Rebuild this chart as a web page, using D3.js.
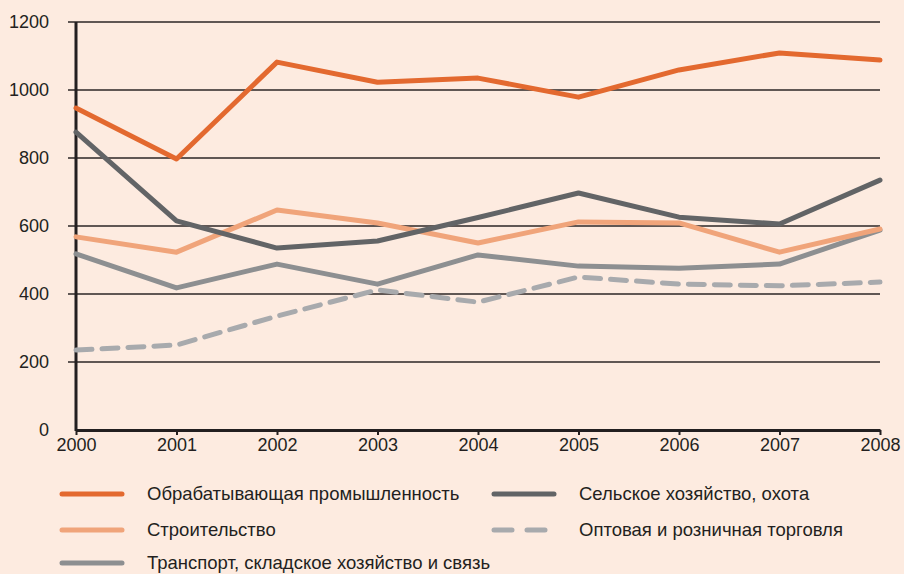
<!DOCTYPE html>
<html>
<head>
<meta charset="utf-8">
<script src="https://cdn.jsdelivr.net/npm/d3@7"></script>
<style>
  body { margin: 0; background: #fdebe0; }
  svg { display: block; font-family: "Liberation Sans", Arial, sans-serif; }
</style>
</head>
<body>
<svg width="904" height="574"></svg>
<script>
var years = [2000, 2001, 2002, 2003, 2004, 2005, 2006, 2007, 2008];
var yTicks = [0, 200, 400, 600, 800, 1000, 1200];

var manufacturing = [947, 797, 1082, 1023, 1035, 979, 1059, 1109, 1088];
var agriculture   = [876, 615, 535, 556, 625, 697, 626, 606, 735];
var construction  = [568, 523, 647, 609, 550, 612, 609, 523, 591];
var transport     = [518, 418, 488, 429, 515, 482, 476, 488, 588];
var trade         = [235, 250, 335, 412, 376, 450, 429, 424, 435];

var seriesNames = [
    'Обрабатывающая промышленность',
    'Сельское хозяйство, охота',
    'Строительство',
    'Оптовая и розничная торговля',
    'Транспорт, складское хозяйство и связь'
];

var series = [
    {name: seriesNames[0], values: manufacturing, color: '#e3692f', dash: null},
    {name: seriesNames[1], values: agriculture, color: '#626466', dash: null},
    {name: seriesNames[2], values: construction, color: '#f0a47a', dash: null},
    {name: seriesNames[3], values: trade, color: '#a8aaad', dash: '16 10'},
    {name: seriesNames[4], values: transport, color: '#8d8f91', dash: null}
];

var margin = {left: 76, right: 24, top: 22, bottom: 144};
var width = 904, height = 574;

var x = d3.scaleLinear().domain([2000, 2008]).range([margin.left, width - margin.right]);
var y = d3.scaleLinear().domain([0, 1200]).range([height - margin.bottom, margin.top]);

var svg = d3.select('svg');

// grid lines
svg.append('g')
    .selectAll('line')
    .data(yTicks.filter(function(d){ return d > 0; }))
    .join('line')
    .attr('x1', margin.left - 8)
    .attr('x2', x(2008))
    .attr('y1', function(d){ return y(d); })
    .attr('y2', function(d){ return y(d); })
    .style('stroke', '#2b2626')
    .style('stroke-width', 1.3);

// y labels
svg.append('g')
    .selectAll('text')
    .data(yTicks)
    .join('text')
    .attr('x', 49)
    .attr('y', function(d){ return y(d) + 6; })
    .attr('text-anchor', 'end')
    .style('font-size', '18px')
    .style('fill', '#231f20')
    .text(function(d){ return d; });

// x axis
var xAxis = d3.axisBottom(x)
    .tickValues(years)
    .tickFormat(d3.format('d'))
    .tickSize(5)
    .tickSizeOuter(0)
    .tickPadding(3);

var gx = svg.append('g')
    .attr('transform', 'translate(0,' + y(0) + ')')
    .call(xAxis);
gx.select('.domain').style('stroke', '#231f20').style('stroke-width', 3);
gx.selectAll('.tick line').style('stroke', '#231f20').style('stroke-width', 2);
gx.selectAll('.tick text')
    .style('font-size', '18px')
    .style('font-family', '"Liberation Sans", Arial, sans-serif')
    .style('fill', '#231f20');

// y axis line
svg.append('line')
    .attr('x1', margin.left)
    .attr('x2', margin.left)
    .attr('y1', y(1200))
    .attr('y2', y(0) + 1)
    .style('stroke', '#231f20')
    .style('stroke-width', 3);

var line = d3.line()
    .x(function(d, i){ return x(years[i]); })
    .y(function(d){ return y(d); });

// draw in order so orange stays on top
var drawOrder = [3, 4, 2, 1, 0];
svg.append('g')
    .selectAll('path')
    .data(drawOrder.map(function(i){ return series[i]; }))
    .join('path')
    .attr('d', function(d){ return line(d.values); })
    .style('fill', 'none')
    .style('stroke', function(d){ return d.color; })
    .style('stroke-width', 5)
    .style('stroke-linejoin', 'round')
    .style('stroke-linecap', 'round')
    .style('stroke-dasharray', function(d){ return d.dash; });

// legend
var legendPos = [
    {x: 62, y: 494}, {x: 494, y: 494},
    {x: 62, y: 530}, {x: 494, y: 530},
    {x: 62, y: 563}
];

var legend = svg.append('g')
    .selectAll('g')
    .data(series)
    .join('g')
    .attr('transform', function(d, i){
        return 'translate(' + legendPos[i].x + ',' + legendPos[i].y + ')';
    });

legend.append('line')
    .attr('x1', 0)
    .attr('x2', 60)
    .style('stroke', function(d){ return d.color; })
    .style('stroke-width', 5)
    .style('stroke-linecap', 'round')
    .style('stroke-dasharray', function(d){ return d.dash ? '18 15' : null; });

legend.append('text')
    .attr('x', 85)
    .attr('y', 6)
    .style('font-size', '18.5px')
    .style('fill', '#231f20')
    .text(function(d){ return d.name; });
</script>
</body>
</html>
